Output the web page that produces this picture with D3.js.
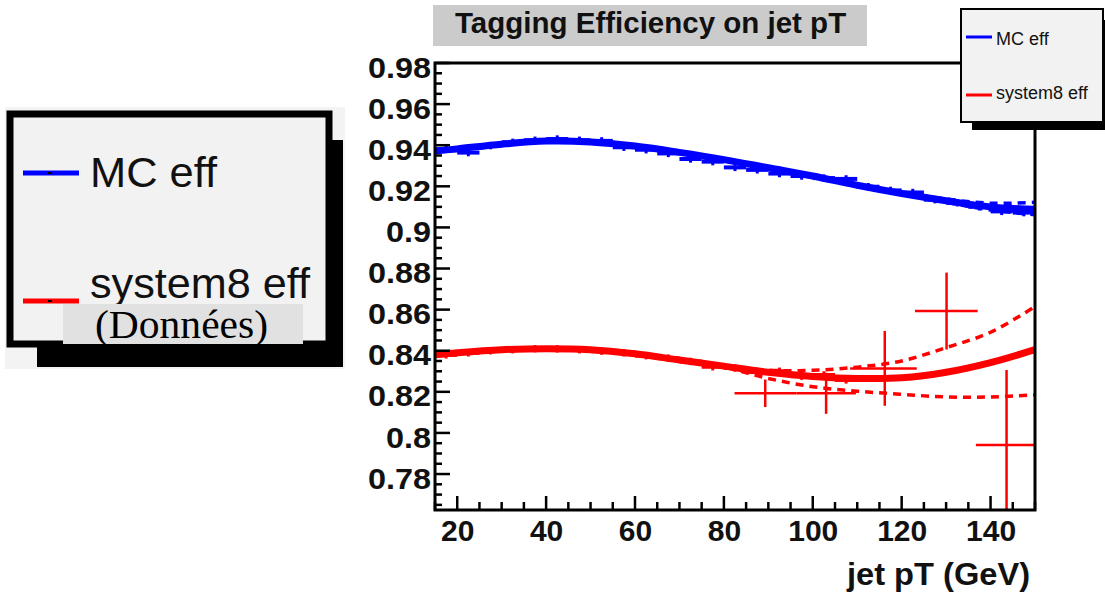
<!DOCTYPE html>
<html>
<head>
<meta charset="utf-8">
<script src="https://cdn.jsdelivr.net/npm/d3@7"></script>
<style>
  html, body { margin: 0; padding: 0; background: #ffffff; }
  svg { display: block; }
</style>
</head>
<body>
<svg id="chart" width="1105" height="596" font-family="Liberation Sans, Arial, Helvetica, sans-serif"></svg>
<script>
// ---------- data ----------
const titleText = "Tagging Efficiency on jet pT";
const xTitle = "jet pT (GeV)";
const seriesNames = ["MC eff", "system8 eff"];
const noteText = "(Données)";

const xTicks = [20, 40, 60, 80, 100, 120, 140];
const yTicks = [0.78, 0.8, 0.82, 0.84, 0.86, 0.88, 0.9, 0.92, 0.94, 0.96, 0.98];
const yTickLabels = ["0.78", "0.8", "0.82", "0.84", "0.86", "0.88", "0.9", "0.92", "0.94", "0.96", "0.98"];

// fit curves
const fitX      = [15, 20, 30, 40, 50, 60, 70, 80, 90, 100, 110, 120, 130, 140, 150];
const mcFit     = [0.9372, 0.9382, 0.9405, 0.942, 0.9416, 0.9396, 0.9365, 0.933, 0.929, 0.925, 0.9205, 0.9165, 0.913, 0.910, 0.9088];
const mcFitUp   = [0.9372, 0.9382, 0.9405, 0.942, 0.9416, 0.9396, 0.9365, 0.933, 0.929, 0.925, 0.9207, 0.917, 0.9138, 0.9118, 0.9122];
const mcFitLo   = [0.9372, 0.9382, 0.9405, 0.942, 0.9416, 0.9396, 0.9365, 0.933, 0.929, 0.925, 0.9203, 0.916, 0.9122, 0.9085, 0.9062];
const s8Fit     = [0.838, 0.839, 0.8405, 0.841, 0.8405, 0.8385, 0.8355, 0.8325, 0.8295, 0.8275, 0.8265, 0.8268, 0.8295, 0.8342, 0.8405];
const s8FitUp   = [0.838, 0.839, 0.8405, 0.841, 0.8405, 0.8385, 0.8355, 0.8328, 0.8305, 0.8305, 0.832, 0.835, 0.8415, 0.849, 0.8615];
const s8FitLo   = [0.838, 0.839, 0.8405, 0.841, 0.8405, 0.8385, 0.8355, 0.832, 0.8265, 0.8225, 0.8203, 0.8188, 0.8175, 0.8175, 0.8185];

// MC efficiency bins (centre, value)
const mcBinX = [17.5, 22.5, 27.5, 32.5, 37.5, 42.5, 47.5, 52.5, 57.5, 62.5, 67.5, 72.5, 77.5, 82.5, 87.5, 92.5, 97.5, 102.5, 107.5, 112.5, 117.5, 122.5, 127.5, 132.5, 137.5, 142.5, 147.5];
const mcBinY = [0.9380, 0.9364, 0.9398, 0.9414, 0.9424, 0.9430, 0.9424, 0.9421, 0.9390, 0.9378, 0.9360, 0.9333, 0.9320, 0.9292, 0.9280, 0.9262, 0.9250, 0.9240, 0.9236, 0.9198, 0.9180, 0.9170, 0.9135, 0.9120, 0.9100, 0.9078, 0.9072];
const mcBinErr = 0.0018;
const binHalfWidth = 2.5;

// system8 low-pT bins on the same binning
const s8BinX = [17.5, 22.5, 27.5, 32.5, 37.5, 42.5, 47.5, 52.5, 57.5, 62.5, 67.5, 72.5, 77.5, 82.5, 87.5, 92.5, 97.5, 102.5, 107.5];
const s8BinY = [0.8380, 0.8390, 0.8400, 0.8405, 0.8410, 0.8409, 0.8405, 0.8398, 0.8390, 0.8376, 0.8364, 0.8348, 0.8322, 0.8316, 0.8296, 0.8300, 0.8276, 0.8282, 0.8258];
const s8BinErr = 0.0018;

// system8 (data) points with error bars
const s8X    = [89.3, 103.0, 116.2, 130.1, 143.6];
const s8XLo  = [82.4, 96.3, 108.4, 123.0, 136.7];
const s8XHi  = [96.3, 109.7, 123.4, 137.1, 150.0];
const s8Y    = [0.8193, 0.8193, 0.8314, 0.8593, 0.7941];
const s8YErr = [0.0067, 0.0100, 0.0182, 0.0187, 0.0365];

// ---------- layout ----------
const svg = d3.select("#chart");
const frame = {left: 435, right: 1035, top: 63, bottom: 510};
const x = d3.scaleLinear().domain([15, 150]).range([frame.left, frame.right]);
const y = d3.scaleLinear().domain([0.7625, 0.98]).range([frame.bottom, frame.top]);
const BLUE = "#0000ff", RED = "#ff0000";
const SANS = "Liberation Sans, Arial, Helvetica, sans-serif";

function stretch(sel, factor) {
  sel.each(function () {
    const w = this.getComputedTextLength();
    d3.select(this).attr("textLength", w * factor).attr("lengthAdjust", "spacingAndGlyphs");
  });
}

svg.append("rect").attr("width", 1105).attr("height", 596).attr("fill", "#ffffff");

// title box
svg.append("rect").attr("x", 433).attr("y", 5).attr("width", 434).attr("height", 41).attr("fill", "#cbcbcb");
svg.append("text").attr("x", 455).attr("y", 33).attr("font-size", 29.5).attr("font-weight", "bold")
  .attr("fill", "#111").text(titleText);

// clip
svg.append("defs").append("clipPath").attr("id", "clip")
  .append("rect").attr("x", frame.left).attr("y", frame.top)
  .attr("width", frame.right - frame.left).attr("height", frame.bottom - frame.top);
const plot = svg.append("g").attr("clip-path", "url(#clip)");

const line = d3.line().x(d => x(d[0])).y(d => y(d[1])).curve(d3.curveCatmullRom.alpha(0.5));
const zipped = arr => fitX.map((v, i) => [v, arr[i]]);

// dashed error curves
[[mcFitUp, BLUE], [mcFitLo, BLUE], [s8FitUp, RED], [s8FitLo, RED]].forEach(([arr, c]) => {
  plot.append("path").attr("d", line(zipped(arr))).attr("fill", "none")
    .attr("stroke", c).attr("stroke-width", 3.5).attr("stroke-dasharray", "8,6");
});
// solid fits
[[mcFit, BLUE], [s8Fit, RED]].forEach(([arr, c]) => {
  plot.append("path").attr("d", line(zipped(arr))).attr("fill", "none")
    .attr("stroke", c).attr("stroke-width", 7).attr("stroke-linecap", "round");
});

// bins
function drawBins(xs, ys, err, color) {
  const g = plot.append("g").attr("stroke", color);
  xs.forEach((cx, i) => {
    g.append("line").attr("x1", x(cx - binHalfWidth)).attr("x2", x(cx + binHalfWidth))
      .attr("y1", y(ys[i])).attr("y2", y(ys[i])).attr("stroke-width", 4);
    g.append("line").attr("x1", x(cx)).attr("x2", x(cx))
      .attr("y1", y(ys[i] - err)).attr("y2", y(ys[i] + err)).attr("stroke-width", 3);
  });
}
drawBins(mcBinX, mcBinY, mcBinErr, BLUE);
drawBins(s8BinX, s8BinY, s8BinErr, RED);

// data points with error bars
const pts = plot.append("g").attr("stroke", RED).attr("stroke-width", 2.5);
s8X.forEach((cx, i) => {
  pts.append("line").attr("x1", x(s8XLo[i])).attr("x2", x(s8XHi[i]))
    .attr("y1", y(s8Y[i])).attr("y2", y(s8Y[i]));
  pts.append("line").attr("x1", x(cx)).attr("x2", x(cx))
    .attr("y1", y(s8Y[i] - s8YErr[i])).attr("y2", y(s8Y[i] + s8YErr[i]));
});

// inward ticks (ROOT style)
const axisG = svg.append("g").attr("stroke", "#000");
d3.range(0.765, 0.9801, 0.005).forEach(v => {
  const major = Math.abs(Math.round(v / 0.02) * 0.02 - v) < 1e-6;
  axisG.append("line").attr("x1", frame.left).attr("x2", frame.left + (major ? 15 : 7))
    .attr("y1", y(v)).attr("y2", y(v)).attr("stroke-width", 2.5);
});
d3.range(15, 150.01, 5).forEach(v => {
  const major = v % 20 === 0;
  axisG.append("line").attr("y1", frame.bottom).attr("y2", frame.bottom - (major ? 14 : 8))
    .attr("x1", x(v)).attr("x2", x(v)).attr("stroke-width", 2.5);
});

// tick labels via d3 axes
const yAxis = d3.axisLeft(y).tickValues(yTicks).tickSize(0).tickPadding(4)
  .tickFormat((d, i) => yTickLabels[i]);
const yg = svg.append("g").attr("transform", `translate(${frame.left},0)`).call(yAxis);
yg.select(".domain").remove();
yg.selectAll("text").style("font-family", SANS).style("font-size", "30px").style("font-weight", "bold")
  .attr("fill", "#111").attr("dy", "0.47em");
stretch(yg.selectAll("text"), 1.08);

const xAxis = d3.axisBottom(x).tickValues(xTicks).tickSize(0).tickPadding(8);
const xg = svg.append("g").attr("transform", `translate(0,${frame.bottom})`).call(xAxis);
xg.select(".domain").remove();
xg.selectAll("text").style("font-family", SANS).style("font-size", "30px").style("font-weight", "bold")
  .attr("fill", "#111").attr("dy", "0.75em");

// frame
svg.append("rect").attr("x", frame.left).attr("y", frame.top)
  .attr("width", frame.right - frame.left).attr("height", frame.bottom - frame.top)
  .attr("fill", "none").attr("stroke", "#000").attr("stroke-width", 3);

// x title
svg.append("text").attr("x", 847).attr("y", 585)
  .attr("font-size", 32).attr("font-weight", "bold").attr("fill", "#111").text(xTitle)
  .attr("textLength", 183).attr("lengthAdjust", "spacingAndGlyphs");

// right legend
const rl = svg.append("g");
rl.append("rect").attr("x", 972).attr("y", 20).attr("width", 133).attr("height", 110).attr("fill", "#000");
rl.append("rect").attr("x", 961).attr("y", 9).attr("width", 142).attr("height", 113)
  .attr("fill", "#f2f2f2").attr("stroke", "#000").attr("stroke-width", 2);
[[BLUE, 37, 45], [RED, 95, 99]].forEach(([c, ly, ty], i) => {
  rl.append("line").attr("x1", 966).attr("x2", 992).attr("y1", ly).attr("y2", ly)
    .attr("stroke", c).attr("stroke-width", 3);
  rl.append("text").attr("x", 996).attr("y", ty).attr("font-size", 18).attr("fill", "#111")
    .text(seriesNames[i]);
});

// left (enlarged) legend
const ll = svg.append("g");
ll.append("rect").attr("x", 5).attr("y", 107).attr("width", 340).attr("height", 262).attr("fill", "#f3f3f3");
ll.append("rect").attr("x", 37).attr("y", 140).attr("width", 306).attr("height", 227).attr("fill", "#000");
ll.append("rect").attr("x", 10).attr("y", 114).attr("width", 319).attr("height", 230)
  .attr("fill", "#f2f2f2").attr("stroke", "#000").attr("stroke-width", 7);
[[BLUE, 173, 187, 127], [RED, 301, 298, 220]].forEach(([c, ly, ty, tl], i) => {
  ll.append("line").attr("x1", 23).attr("x2", 79).attr("y1", ly).attr("y2", ly)
    .attr("stroke", c).attr("stroke-width", 5);
  ll.append("rect").attr("x", 48).attr("y", ly - 1).attr("width", 4).attr("height", 2).attr("fill", "#000");
  ll.append("text").attr("x", 90).attr("y", ty).attr("font-size", 42).attr("fill", "#111")
    .attr("textLength", tl).attr("lengthAdjust", "spacingAndGlyphs")
    .text(seriesNames[i]);
});
ll.append("rect").attr("x", 63).attr("y", 304).attr("width", 240).attr("height", 40).attr("fill", "#e1e1e1");
ll.append("text").attr("x", 95).attr("y", 338)
  .style("font-family", "'Liberation Serif', 'Times New Roman', serif").attr("font-size", 39)
  .attr("textLength", 173).attr("lengthAdjust", "spacingAndGlyphs")
  .attr("fill", "#000").text(noteText);
</script>
</body>
</html>
